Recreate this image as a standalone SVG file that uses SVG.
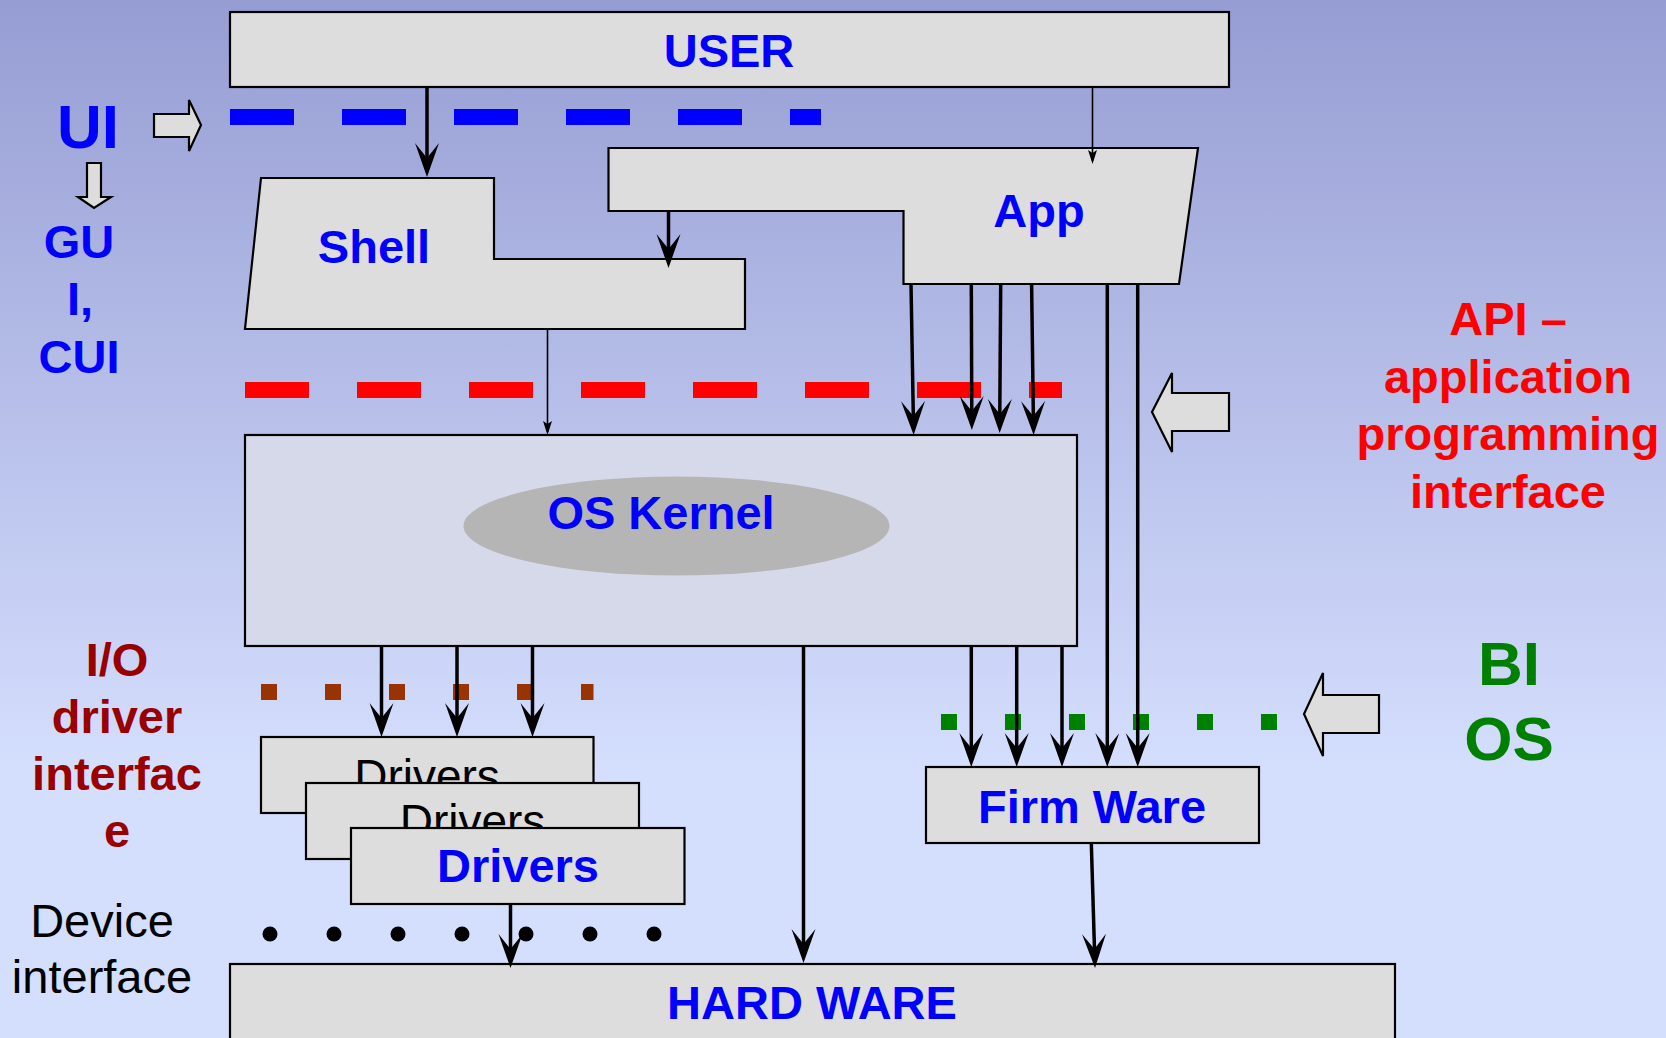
<svg xmlns="http://www.w3.org/2000/svg" width="1666" height="1038" viewBox="0 0 1666 1038">
  <defs>
    <linearGradient id="bg" x1="0" y1="0" x2="0" y2="1">
      <stop offset="0" stop-color="#969DD3"/>
      <stop offset="0.74" stop-color="#D4DEFD"/>
      <stop offset="1" stop-color="#D4DEFD"/>
    </linearGradient>
    <marker id="head" markerUnits="userSpaceOnUse" markerWidth="40" markerHeight="30" refX="26" refY="12" orient="auto">
      <path d="M0,0 L34,12 L0,24 L15,12 Z" fill="#000"/>
    </marker>
    <marker id="headThin" markerUnits="userSpaceOnUse" markerWidth="20" markerHeight="12" refX="11" refY="4.5" orient="auto">
      <path d="M0,0 L14,4.5 L0,9 L3,4.5 Z" fill="#000"/>
    </marker>
    <style>
      .box { fill: #DDDDDD; stroke: #000; stroke-width: 2.2; }
      .kern { fill: #D6D9EA; stroke: #000; stroke-width: 2.2; }
      .blk { fill: #DDDDDD; stroke: #000; stroke-width: 2.2; stroke-linejoin: miter; }
      .t { font-family: "Liberation Sans", Arial, sans-serif; font-weight: bold; font-size: 47px; text-anchor: middle; }
      .tn { font-family: "Liberation Sans", Arial, sans-serif; font-weight: normal; font-size: 46px; text-anchor: middle; }
      .blue { fill: #0000FF; }
      .red { fill: #FF0000; }
      .green { fill: #008000; }
      .dred { fill: #990000; }
      .thick { stroke: #000; stroke-width: 3.5; fill: none; marker-end: url(#head); }
      .thin { stroke: #000; stroke-width: 1.6; fill: none; marker-end: url(#headThin); }
    </style>
  </defs>

  <rect x="0" y="0" width="1666" height="1038" fill="url(#bg)"/>

  <!-- interface boundary lines -->
  <g id="interface-lines">
    <line x1="230" y1="117" x2="821" y2="117" stroke="#0000FF" stroke-width="16" stroke-dasharray="64 48"/>
    <line x1="245" y1="390" x2="1062" y2="390" stroke="#FF0000" stroke-width="16" stroke-dasharray="64 48"/>
    <line x1="261" y1="692" x2="593.5" y2="692" stroke="#993300" stroke-width="16" stroke-dasharray="16 48"/>
    <line x1="941" y1="722" x2="1278" y2="722" stroke="#008000" stroke-width="16" stroke-dasharray="16 48"/>
    <g fill="#000">
      <circle cx="270" cy="934" r="7.5"/>
      <circle cx="334" cy="934" r="7.5"/>
      <circle cx="398" cy="934" r="7.5"/>
      <circle cx="462" cy="934" r="7.5"/>
      <circle cx="526" cy="934" r="7.5"/>
      <circle cx="590" cy="934" r="7.5"/>
      <circle cx="654" cy="934" r="7.5"/>
    </g>
  </g>

  <!-- side labels -->
  <g id="label-ui">
    <text class="t blue" x="88" y="148" style="font-size:62px">UI</text>
    <path class="blk" d="M154,114 L189,114 L189,100 L201,125 L189,151 L189,137 L154,137 Z"/>
    <path class="blk" d="M87,163 L101,163 L101,197 L111,197 L94,208 L78,197 L87,197 Z"/>
    <text class="t blue" x="79" y="258">GU</text>
    <text class="t blue" x="80" y="315">I,</text>
    <text class="t blue" x="79" y="373">CUI</text>
  </g>

  <g id="label-api">
    <text class="t red" x="1508" y="335">API –</text>
    <text class="t red" x="1508" y="393">application</text>
    <text class="t red" x="1508" y="450">programming</text>
    <text class="t red" x="1508" y="508">interface</text>
    <path class="blk" d="M1229,393 L1172,393 L1172,373 L1152,412 L1172,452 L1172,431 L1229,431 Z"/>
  </g>

  <g id="label-bios">
    <text class="t green" x="1509" y="685" style="font-size:62px">BI</text>
    <text class="t green" x="1509" y="760" style="font-size:62px">OS</text>
    <path class="blk" d="M1379,695 L1323,695 L1323,673 L1304,714 L1323,756 L1323,733 L1379,733 Z"/>
  </g>

  <g id="label-io">
    <text class="t dred" x="117" y="676">I/O</text>
    <text class="t dred" x="117" y="733">driver</text>
    <text class="t dred" x="117" y="790">interfac</text>
    <text class="t dred" x="117" y="847">e</text>
  </g>

  <g id="label-device">
    <text class="tn" x="102" y="937" style="font-size:47px" fill="#000">Device</text>
    <text class="tn" x="102" y="993" style="font-size:47px" fill="#000">interface</text>
  </g>

  <!-- nodes -->
  <g id="user">
    <rect class="box" x="230" y="12" width="999" height="75"/>
    <text class="t blue" x="729" y="67">USER</text>
  </g>

  <g id="app">
    <path class="box" d="M608.5,148 L1198,148 L1179,284 L903.5,284 L903.5,211 L608.5,211 Z"/>
    <text class="t blue" x="1039" y="227">App</text>
  </g>

  <g id="shell">
    <path class="box" d="M261,178 L494,178 L494,259 L745,259 L745,329 L245,329 Z"/>
    <text class="t blue" x="374" y="263">Shell</text>
  </g>

  <g id="os-kernel">
    <rect class="kern" x="245" y="435" width="832" height="211"/>
    <ellipse cx="676.5" cy="526" rx="213" ry="49.5" fill="#B5B5B5"/>
    <text class="t blue" x="661" y="529">OS Kernel</text>
  </g>

  <!-- stacked driver cards; each card hides the lower part of the one behind -->
  <g id="drivers">
    <rect class="box" x="261" y="737" width="332.5" height="76"/>
    <text class="tn" x="427" y="792" fill="#000">Drivers</text>
    <rect class="box" x="306" y="783" width="333" height="76"/>
    <text class="tn" x="472.5" y="837" fill="#000">Drivers</text>
    <rect class="box" x="351" y="828" width="333.5" height="76"/>
    <text class="t blue" x="518" y="882">Drivers</text>
  </g>

  <g id="firmware">
    <rect class="box" x="926" y="767" width="333" height="76"/>
    <text class="t blue" x="1092" y="823">Firm Ware</text>
  </g>

  <g id="hardware">
    <rect class="box" x="230" y="964" width="1165" height="100"/>
    <text class="t blue" x="812" y="1019">HARD WARE</text>
  </g>

  <!-- connectors -->
  <g id="connectors">
    <line class="thick" x1="427" y1="87" x2="427" y2="169"/>
    <line class="thin" x1="1092.5" y1="87" x2="1092.5" y2="161"/>
    <line class="thick" x1="668.5" y1="211" x2="668.5" y2="260"/>
    <line class="thin" x1="547.5" y1="329" x2="547.5" y2="432"/>

    <line class="thick" x1="911" y1="284" x2="913.5" y2="427"/>
    <line class="thick" x1="971.3" y1="284" x2="971.8" y2="422"/>
    <line class="thick" x1="1000.7" y1="284" x2="999.7" y2="425"/>
    <line class="thick" x1="1031.6" y1="284" x2="1033.5" y2="427"/>

    <line class="thick" x1="1107.3" y1="284" x2="1107.3" y2="759"/>
    <line class="thick" x1="1137.7" y1="284" x2="1137.7" y2="759"/>
    <line class="thick" x1="971.3" y1="646" x2="971.3" y2="759"/>
    <line class="thick" x1="1016.7" y1="646" x2="1016.7" y2="759"/>
    <line class="thick" x1="1062" y1="646" x2="1062" y2="759"/>

    <line class="thick" x1="381.5" y1="646" x2="381.5" y2="729"/>
    <line class="thick" x1="457" y1="646" x2="457" y2="729"/>
    <line class="thick" x1="532.5" y1="646" x2="532.5" y2="729"/>

    <line class="thick" x1="803.5" y1="646" x2="803.5" y2="955"/>
    <line class="thick" x1="510.5" y1="904" x2="510.5" y2="960"/>
    <line class="thick" x1="1091.3" y1="843" x2="1094.8" y2="960"/>
  </g>
</svg>
